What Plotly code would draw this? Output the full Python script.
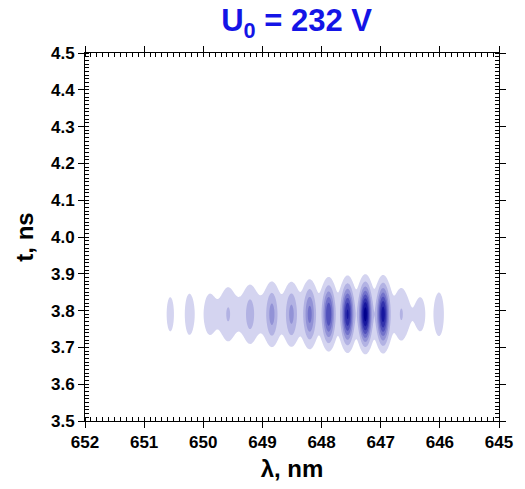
import numpy as np
import plotly.graph_objects as go

# Fringe peaks: wavelength (nm) and amplitude (in contour-level units)
peak_wl = [650.56, 650.24, 649.90, 649.58, 649.21, 648.84, 648.51, 648.20,
           647.88, 647.56, 647.26, 646.96, 646.65, 646.32, 646.01]
peak_amp = [1.45, 1.35, 0.55, 0.9, 1.3, 2.2, 2.1, 3.2,
            4.9, 6.2, 7.6, 6.55, 1.0, 0.5, 1.45]
peak_t = 3.79          # ns, centre of the time profile
peak_sig_wl = 0.065    # nm
peak_sig_t = 0.05      # ns

# Broad background band under the fringes
bg_wl = [649.75, 649.05, 648.35, 647.65, 646.95, 646.4]
bg_amp = [1.0, 1.0, 1.0, 0.8, 0.75, 0.7]
bg_sig_wl = 0.35
bg_sig_t = 0.07

levels_start, levels_end, levels_step = 1, 8, 1
band_colors = ["#ffffff", "#d4d4f0", "#b2b2e3", "#9292d6", "#7272ca",
               "#5151bb", "#3232ac", "#16169e", "#00008c"]

wl = np.arange(645.0, 652.0001, 0.01)
t = np.arange(3.5, 4.5001, 0.002)
W, T = np.meshgrid(wl, t)
Z = np.zeros_like(W)
for c, a in zip(peak_wl, peak_amp):
    Z += a * np.exp(-(W - c) ** 2 / (2 * peak_sig_wl ** 2)) * np.exp(-(T - peak_t) ** 2 / (2 * peak_sig_t ** 2))
for c, a in zip(bg_wl, bg_amp):
    Z += a * np.exp(-(W - c) ** 2 / (2 * bg_sig_wl ** 2)) * np.exp(-(T - peak_t) ** 2 / (2 * bg_sig_t ** 2))

n = len(band_colors) - 1
cscale = [[i / n, col] for i, col in enumerate(band_colors)]

fig = go.Figure(go.Contour(
    x=wl, y=t, z=Z,
    contours=dict(start=levels_start, end=levels_end, size=levels_step, coloring="fill"),
    colorscale=cscale, showscale=False, line=dict(width=0),
    hoverinfo="skip",
))

FAM = "Liberation Sans, Arial"
font_tick = dict(family=FAM, size=17, color="black", weight="bold")
font_title = dict(family=FAM, size=24, color="black", weight="bold")

x_ticks = [652, 651, 650, 649, 648, 647, 646, 645]
x_labels = ["652", "651", "650", "649", "648", "647", "646", "645"]
y_ticks = [3.5, 3.6, 3.7, 3.8, 3.9, 4.0, 4.1, 4.2, 4.3, 4.4, 4.5]
y_labels = ["3.5", "3.6", "3.7", "3.8", "3.9", "4.0", "4.1", "4.2", "4.3", "4.4", "4.5"]

fig.update_layout(
    width=525, height=489,
    margin=dict(l=85, r=19, t=53, b=62),
    paper_bgcolor="white", plot_bgcolor="white",
    showlegend=False,
    title=dict(text="U<sub>0</sub> = 232 V", x=0.565, xanchor="center", y=0.958, yanchor="middle",
               font=dict(family=FAM, size=31, color="#1414e6", weight="bold")),
    xaxis=dict(range=[652, 645], tickmode="array", tickvals=x_ticks, ticktext=x_labels,
               ticks="outside", ticklen=6, tickwidth=1, tickcolor="black",
               minor=dict(ticks="inside", ticklen=4, dtick=0.1, tickcolor="black"),
               showline=True, mirror="allticks", linecolor="black", linewidth=1,
               showgrid=False, zeroline=False, tickfont=font_tick,
               title=dict(text="λ, nm", font=font_title, standoff=8)),
    yaxis=dict(range=[3.5, 4.5], tickmode="array", tickvals=y_ticks, ticktext=y_labels,
               ticks="outside", ticklen=6, tickwidth=1, tickcolor="black",
               minor=dict(ticks="inside", ticklen=4, dtick=0.01, tickcolor="black"),
               showline=True, mirror="allticks", linecolor="black", linewidth=1,
               showgrid=False, zeroline=False, tickfont=font_tick,
               title=dict(text="t, ns", font=font_title, standoff=10)),
)

fig.write_html("out.html")
